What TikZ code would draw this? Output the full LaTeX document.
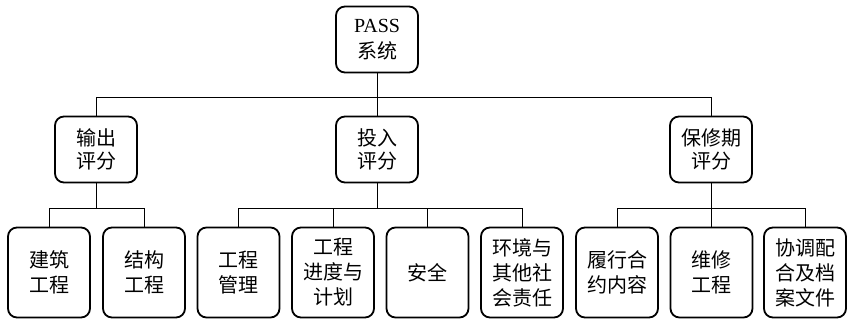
\documentclass[tikz,border=0pt]{standalone}
\usepackage{fontspec}
\setmainfont{Liberation Serif}
\newfontfamily\cjk{Noto Sans CJK SC}
\begin{document}
\begin{tikzpicture}[x=1pt,y=-1pt,
  box/.style={draw=black,line width=1.8pt,rounded corners=9pt,align=center,inner sep=0pt,
    minimum width=82pt},
  topbox/.style={box,minimum height=66pt,font=\cjk\fontsize{20}{23.5}\selectfont},
  leafbox/.style={box,minimum height=90pt,font=\cjk\fontsize{20}{25}\selectfont},
  conn/.style={draw=black,line width=1pt}]
\useasboundingbox (0,0) rectangle (847,322);
\node[topbox,font=\fontsize{20}{26}\selectfont] (root) at (377,39.5) {PASS\\{\cjk 系统}};
\node[topbox] (m1) at (96,149.5) {输出\\评分};
\node[topbox] (m2) at (377,149.5) {投入\\评分};
\node[topbox] (m3) at (711,149.5) {保修期\\评分};
\node[leafbox] (b1) at (49,272.5) {建筑\\工程};
\node[leafbox] (b2) at (144,272.5) {结构\\工程};
\node[leafbox] (b3) at (238.5,272.5) {工程\\管理};
\node[leafbox] (b4) at (333,272.5) {工程\\进度与\\计划};
\node[leafbox] (b5) at (427.5,272.5) {安全};
\node[leafbox] (b6) at (522,272.5) {环境与\\其他社\\会责任};
\node[leafbox] (b7) at (617,272.5) {履行合\\约内容};
\node[leafbox] (b8) at (711.5,272.5) {维修\\工程};
\node[leafbox] (b9) at (805,272.5) {协调配\\合及档\\案文件};
\coordinate (busA) at (0,97);
\coordinate (busB) at (0,208);
% top level
\draw[conn] (root.south) -- (m2.north);
\draw[conn] (m1.north) |- (m3.north |- busA) -- (m3.north);
% left group
\draw[conn] (m1.south) -- (m1.south |- busB);
\draw[conn] (b1.north) |- (b2.north |- busB) -- (b2.north);
% middle group
\draw[conn] (m2.south) -- (m2.south |- busB);
\draw[conn] (b3.north) |- (b6.north |- busB) -- (b6.north);
\draw[conn] (b4.north) -- (b4.north |- busB);
\draw[conn] (b5.north) -- (b5.north |- busB);
% right group
\draw[conn] (m3.south) -- (m3.south |- busB);
\draw[conn] (b7.north) |- (b9.north |- busB) -- (b9.north);
\draw[conn] (b8.north) -- (b8.north |- busB);
\end{tikzpicture}
\end{document}
